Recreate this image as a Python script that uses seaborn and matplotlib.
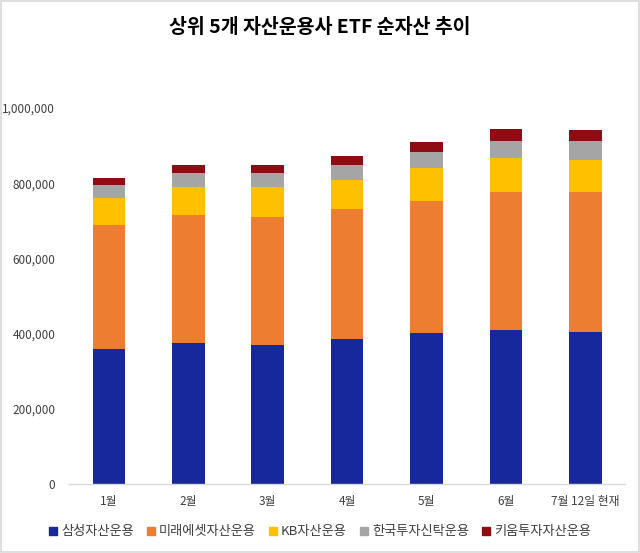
import pandas as pd
import numpy as np
import matplotlib
matplotlib.use("Agg")
import matplotlib.pyplot as plt
import matplotlib.ticker as ticker
from matplotlib.patches import Rectangle
import seaborn as sns

sns.set_theme(style="white")
plt.rcParams['font.family'] = ['Noto Sans CJK KR', 'DejaVu Sans']

# --- data ---
months = ['1월', '2월', '3월', '4월', '5월', '6월', '7월 12일 현재']
samsung = [359000, 375000, 370000, 386000, 402000, 410000, 404000]
mirae = [330000, 341000, 340000, 345000, 351000, 367000, 373000]
kb = [72000, 74000, 80000, 78000, 88000, 90000, 85000]
hankook = [34000, 37000, 37000, 40000, 42000, 45000, 50000]
kiwoom = [19000, 22000, 22000, 23000, 27000, 32000, 30000]

series = ['삼성자산운용', '미래에셋자산운용', 'KB자산운용', '한국투자신탁운용', '키움투자자산운용']
colors = ['#16289C', '#ED7D31', '#FFC000', '#A5A5A5', '#8E0C12']

df = pd.DataFrame({'month': months, series[0]: samsung, series[1]: mirae,
                   series[2]: kb, series[3]: hankook, series[4]: kiwoom})
cum = df[series].cumsum(axis=1)

fig = plt.figure(figsize=(6.4, 5.53), dpi=100)
ax = fig.add_axes([0.108, 0.1248, 0.869, 0.680])

# stacked bars: draw cumulative totals from the top segment down
for name, col in reversed(list(zip(series, colors))):
    sns.barplot(x=df['month'], y=cum[name], color=col, width=0.41,
                saturation=1, linewidth=0, ax=ax)

ax.set_ylim(0, 1000000)
ax.set_yticks(range(0, 1000001, 200000))
ax.yaxis.set_major_formatter(ticker.FuncFormatter(lambda v, p: f'{int(v):,}'))
ax.set_xlabel('')
ax.set_ylabel('')
ax.tick_params(axis='both', length=0, labelsize=8.5, colors='#404040')
ax.tick_params(axis='x', pad=8)
ax.tick_params(axis='y', pad=10)
for s in ['top', 'right', 'left']:
    ax.spines[s].set_visible(False)
ax.spines['bottom'].set_color('#D9D9D9')
ax.spines['bottom'].set_linewidth(1)

fig.text(0.5, 0.951, '상위 5개 자산운용사 ETF 순자산 추이', ha='center', va='center',
         fontsize=14, fontweight='bold', color='#000000')

handles = [Rectangle((0, 0), 1, 1, color=c) for c in colors]
fig.legend(handles, series, loc='center', bbox_to_anchor=(0.5, 0.038), ncol=5,
           frameon=False, fontsize=9.5, handlelength=0.6, handleheight=0.6,
           handletextpad=0.3, columnspacing=1.0, labelcolor='#404040')

# light frame around the whole image
fig.patches.append(Rectangle((0.001, 0.001), 0.997, 0.997, transform=fig.transFigure,
                             fill=False, edgecolor='#D9D9D9', linewidth=1.2))

fig.savefig('out.png', dpi=100)
